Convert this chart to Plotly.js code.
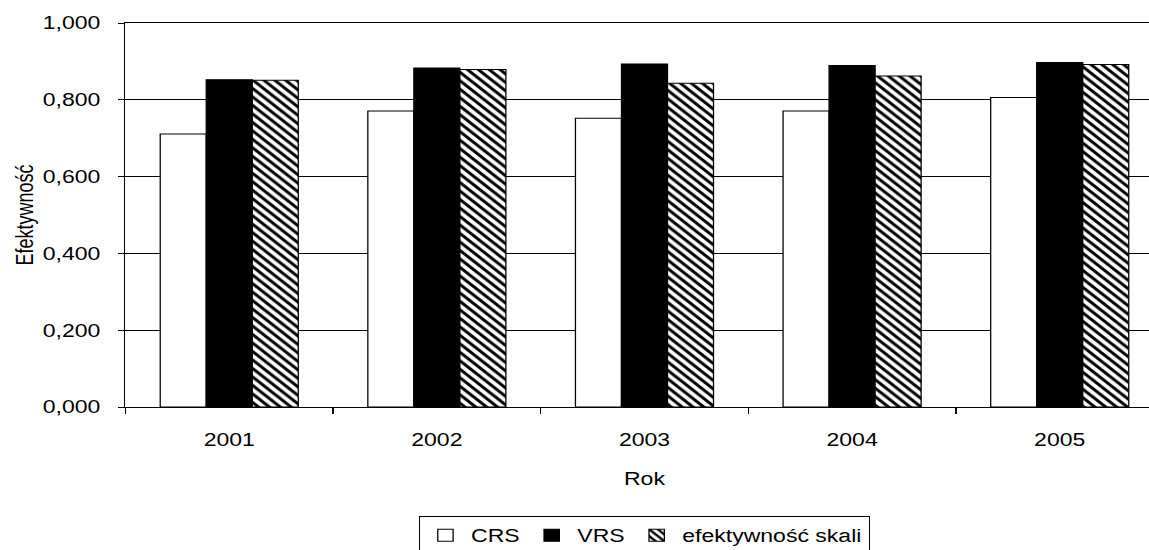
<!DOCTYPE html>
<html>
<head>
<meta charset="utf-8">
<script src="https://cdn.plot.ly/plotly-3.0.1.min.js"></script>
<style>
  html, body { margin: 0; padding: 0; overflow: hidden; background: #fff; width: 1149px; height: 550px; }
  #plot { width: 920px; height: 550px; transform: scaleX(1.28); transform-origin: 0 0; }
</style>
</head>
<body>
<div id="plot"></div>
<script>
const years = ['2001', '2002', '2003', '2004', '2005'];
const crs = [0.711, 0.771, 0.752, 0.771, 0.806];
const vrs = [0.852, 0.883, 0.893, 0.889, 0.897];
const skali = [0.851, 0.879, 0.843, 0.862, 0.892];
const seriesNames = ['CRS', 'VRS', 'efektywność skali'];
const yTickVals = [0, 0.2, 0.4, 0.6, 0.8, 1.0];

const font = 'Liberation Sans, Arial, sans-serif';
const outline = { color: '#000', width: 1 };

const traces = [
  { type: 'bar', name: seriesNames[0], x: years, y: crs,
    marker: { color: '#ffffff', line: outline } },
  { type: 'bar', name: seriesNames[1], x: years, y: vrs,
    marker: { color: '#000000', line: outline } },
  { type: 'bar', name: seriesNames[2], x: years, y: skali,
    marker: { color: '#ffffff', line: outline,
      pattern: { shape: '\\', fgcolor: '#000000', bgcolor: '#ffffff', size: 6, solidity: 0.45 } } }
];

const layout = {
  width: 920, height: 550,
  margin: { l: 98, r: 11.4, t: 22.7, b: 142.7, autoexpand: false },
  paper_bgcolor: '#ffffff', plot_bgcolor: '#ffffff',
  font: { family: font, size: 18, color: '#000' },
  separators: ', ',
  barmode: 'group', bargap: 0.335, bargroupgap: 0,
  showlegend: true,
  legend: {
    orientation: 'h', xref: 'paper', x: 0.5, xanchor: 'center',
    yref: 'container', y: 0.0618, yanchor: 'top',
    bordercolor: '#000', borderwidth: 1, bgcolor: '#fff',
    font: { family: font, size: 18, color: '#000' },
    traceorder: 'normal'
  },
  xaxis: {
    type: 'category', automargin: false,
    showline: true, linecolor: '#000', linewidth: 1, mirror: true,
    ticks: 'outside', ticklen: 6, tickcolor: '#000', tickson: 'boundaries',
    ticklabelstandoff: 16,
    showgrid: false, zeroline: false,
    tickfont: { family: font, size: 18, color: '#000' },
    title: { text: 'Rok', font: { family: font, size: 18, color: '#000' }, standoff: 23 }
  },
  yaxis: {
    range: [0, 1], tickvals: yTickVals, tickformat: '.3f', automargin: false,
    showline: true, linecolor: '#000', linewidth: 1, mirror: true,
    ticks: 'outside', ticklen: 5, tickcolor: '#000',
    ticklabelstandoff: 10,
    showgrid: true, gridcolor: '#000', gridwidth: 1, zeroline: false,
    tickfont: { family: font, size: 18, color: '#000' },
    title: { text: 'Efektywność', font: { family: font, size: 18, color: '#000' }, standoff: 2 }
  }
};

Plotly.newPlot('plot', traces, layout, { displayModeBar: false, staticPlot: true });
</script>
</body>
</html>
